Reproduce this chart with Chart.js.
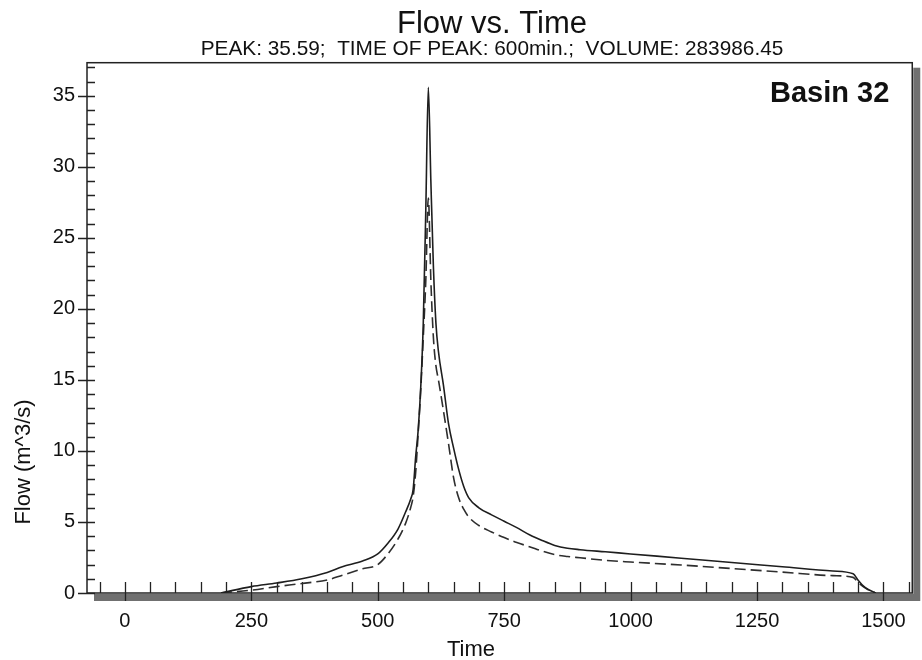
<!DOCTYPE html>
<html>
<head>
<meta charset="utf-8">
<title>Flow vs. Time</title>
<script src="https://cdn.jsdelivr.net/npm/chart.js@4.4.1/dist/chart.umd.min.js"></script>
<style>
  html, body { margin: 0; padding: 0; background: #fff; }
  #wrap { width: 922px; height: 660px; }
</style>
</head>
<body>
<div id="wrap"><canvas id="flowChart" width="922" height="660"></canvas></div>
<script>
// Hydrograph (minutes, m^3/s)
const timeMin = [190, 200, 250, 300, 350, 400, 430, 470, 500, 520, 540, 555, 565, 570, 575, 580, 585, 590, 595, 600,
                 605, 610, 615, 620, 630, 640, 650, 660, 670, 680, 700, 725, 750, 775, 800, 825, 850, 875, 900, 950,
                 1000, 1100, 1200, 1300, 1400, 1440, 1450, 1460, 1470, 1480, 1485];
const flowSolid = [0, 0.08, 0.45, 0.7, 1.0, 1.45, 1.85, 2.25, 2.75, 3.5, 4.5, 5.7, 6.6, 7.3, 9.6, 11.5, 14.5, 19, 27, 35.59,
                   29, 23, 19, 17, 14.6, 11.9, 10.2, 8.7, 7.5, 6.7, 6.0, 5.5, 5.05, 4.6, 4.1, 3.7, 3.35, 3.15, 3.05, 2.9,
                   2.75, 2.45, 2.15, 1.85, 1.55, 1.35, 0.9, 0.5, 0.25, 0.08, 0];
const flowDashed = [0, 0.03, 0.2, 0.45, 0.67, 0.92, 1.25, 1.7, 2.0, 2.75, 3.8, 4.9, 6.0, 6.8, 8.5, 11.3, 14.3, 18, 22, 27.8,
                    22, 18, 16, 15, 12.8, 10.5, 8.1, 6.7, 5.9, 5.35, 4.75, 4.3, 3.9, 3.55, 3.26, 2.95, 2.7, 2.57, 2.48, 2.3,
                    2.18, 1.97, 1.72, 1.47, 1.22, 1.1, 0.75, 0.45, 0.22, 0.07, 0];

const xTickValues = [0, 250, 500, 750, 1000, 1250, 1500];
const yTickValues = [0, 5, 10, 15, 20, 25, 30, 35];

const chartTitle = 'Flow vs. Time';
const chartSubtitle = 'PEAK: 35.59;  TIME OF PEAK: 600min.;  VOLUME: 283986.45';
const basinLabel = 'Basin 32';
const xTitle = 'Time';
const yTitle = 'Flow (m^3/s)';

const FONT = '"Liberation Sans", Arial, sans-serif';

// frame, drop shadow, minor/major ticks and the texts around the plot
const framePlugin = {
    id: 'frame',
    beforeDatasetsDraw(chart) {
        const { ctx, chartArea: a, scales: { x, y } } = chart;
        ctx.save();

        // grey drop shadow on bottom and right
        ctx.fillStyle = '#707070';
        ctx.fillRect(a.left + 7, a.bottom + 1, a.right - a.left, 7);
        ctx.fillRect(a.right + 1, a.top + 5, 7, a.bottom - a.top + 3);

        // box
        ctx.strokeStyle = '#222';
        ctx.lineWidth = 1.5;
        ctx.strokeRect(a.left, a.top, a.right - a.left, a.bottom - a.top);

        ctx.lineWidth = 1.3;
        ctx.beginPath();
        // y ticks every 1, major every 5
        for (let v = 0; v <= 37; v++) {
            const py = Math.round(y.getPixelForValue(v)) + 0.5;
            ctx.moveTo(v % 5 === 0 ? a.left - 9 : a.left, py);
            ctx.lineTo(a.left + 8, py);
        }
        // x ticks every 50, major every 250
        for (let v = -50; v <= 1550; v += 50) {
            const px = Math.round(x.getPixelForValue(v)) + 0.5;
            ctx.moveTo(px, a.bottom - 11);
            ctx.lineTo(px, v % 250 === 0 ? a.bottom + 8 : a.bottom);
        }
        ctx.stroke();

        // headings
        ctx.fillStyle = '#111';
        ctx.textAlign = 'center';
        ctx.textBaseline = 'alphabetic';
        ctx.font = '31px ' + FONT;
        ctx.fillText(chartTitle, 492, 33);
        ctx.font = '20.8px ' + FONT;
        ctx.fillText(chartSubtitle, 492, 55);

        // axis titles
        ctx.font = '22px ' + FONT;
        ctx.fillText(xTitle, 471, 656);
        ctx.save();
        ctx.translate(30, 462);
        ctx.rotate(-Math.PI / 2);
        ctx.fillText(yTitle, 0, 0);
        ctx.restore();

        ctx.textAlign = 'right';
        ctx.font = 'bold 29px ' + FONT;
        ctx.fillText(basinLabel, a.right - 23, a.top + 39);
        ctx.restore();
    }
};

const ctx = document.getElementById('flowChart');

new Chart(ctx, {
    type: 'line',
    data: {
        datasets: [
            {
                label: 'Flow',
                data: timeMin.map((t, i) => ({ x: t, y: flowSolid[i] })),
                borderColor: '#1e1e1e',
                borderWidth: 1.6,
                pointRadius: 0,
                cubicInterpolationMode: 'monotone',
                fill: false
            },
            {
                label: 'Flow (dashed)',
                data: timeMin.map((t, i) => ({ x: t, y: flowDashed[i] })),
                borderColor: '#2e2e2e',
                borderWidth: 1.6,
                borderDash: [11, 5],
                pointRadius: 0,
                cubicInterpolationMode: 'monotone',
                fill: false
            }
        ]
    },
    options: {
        responsive: false,
        animation: false,
        layout: { padding: { top: 62.7, right: 9, left: 0, bottom: 0 } },
        plugins: {
            legend: { display: false },
            tooltip: { enabled: false },
            title: { display: false }
        },
        scales: {
            x: {
                type: 'linear',
                min: -75,
                max: 1557,
                grid: { display: false, drawTicks: false },
                border: { display: false },
                afterBuildTicks: (scale) => { scale.ticks = xTickValues.map(v => ({ value: v })); },
                afterFit: (scale) => { scale.height = 67; },
                ticks: {
                    color: '#111',
                    padding: 16,
                    maxRotation: 0,
                    font: { family: FONT, size: 20 },
                    callback: (v) => String(v)
                },
                title: { display: false }
            },
            y: {
                type: 'linear',
                min: 0,
                max: 37.33,
                grid: { display: false, drawTicks: false },
                border: { display: false },
                afterBuildTicks: (scale) => { scale.ticks = yTickValues.map(v => ({ value: v })); },
                afterFit: (scale) => { scale.width = 87; },
                ticks: {
                    color: '#111',
                    padding: 12,
                    font: { family: FONT, size: 20 },
                    callback: (v) => String(v)
                },
                title: { display: false }
            }
        }
    },
    plugins: [framePlugin]
});
</script>
</body>
</html>
